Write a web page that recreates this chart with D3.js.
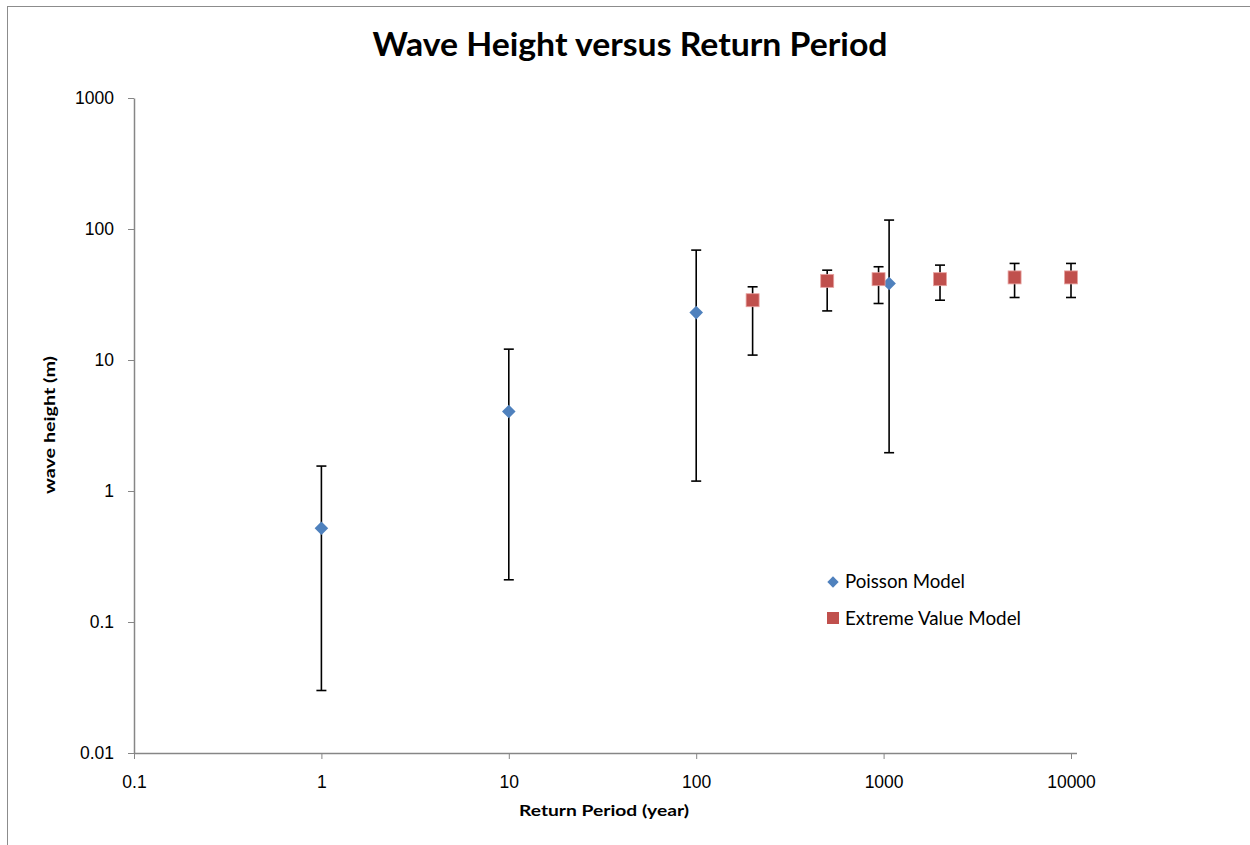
<!DOCTYPE html>
<html>
<head>
<meta charset="utf-8">
<script src="https://cdn.jsdelivr.net/npm/d3@7"></script>
<style>
  body { margin: 0; background: #fff; }
  svg { display: block; font-family: Lato, "Open Sans", sans-serif; }
  .axis path, .axis line { stroke: #868686; }
  .axis text { font-size: 17.5px; fill: #000; }
</style>
</head>
<body>
<div id="chart"></div>
<script>
'use strict';

// return periods (year) and wave heights (m)
const poissonPeriod = [1, 10, 100, 1070];
const poissonHeight = [0.52, 4.05, 23.0, 38.4];
const poissonLow    = [0.03, 0.21, 1.19, 1.96];
const poissonHigh   = [1.55, 12.1, 69, 117];

const evPeriod = [200, 500, 940, 2000, 5000, 10000];
const evHeight = [28.6, 40.2, 41.4, 41.4, 42.7, 42.7];
const evLow    = [10.9, 23.7, 27.0, 28.6, 30.0, 30.0];
const evHigh   = [36.2, 48.5, 51.5, 53.0, 54.6, 54.6];

const xTicks = [0.1, 1, 10, 100, 1000, 10000];
const yTicks = [0.01, 0.1, 1, 10, 100, 1000];

const seriesNames = ['Poisson Model', 'Extreme Value Model'];
const blue = '#4F81BD';
const red  = '#C0504D';

const width = 1250, height = 845;
const margin = { left: 134, right: 179, top: 98, bottom: 92 };

const svg = d3.select('#chart').append('svg')
  .attr('width', width)
  .attr('height', height);

// chart frame (cut off at right/bottom like the original)
svg.append('rect')
  .attr('x', 7.5).attr('y', 6.5)
  .attr('width', width + 20).attr('height', height + 20)
  .attr('fill', 'none')
  .attr('stroke', '#8c8c8c')
  .attr('stroke-width', 1);

const x = d3.scaleLog()
  .domain([0.1, 10000])
  .range([margin.left, width - margin.right]);

const y = d3.scaleLog()
  .domain([0.01, 1000])
  .range([height - margin.bottom, margin.top]);

const fmt = d => String(d);

// x axis
const gx = svg.append('g')
  .attr('class', 'axis')
  .attr('transform', `translate(0,${y(0.01)})`)
  .call(d3.axisBottom(x).tickValues(xTicks).tickFormat(fmt).tickSize(6).tickSizeOuter(0));
gx.select('.domain').remove();
gx.append('line')
  .attr('x1', x(0.1)).attr('x2', x(10000) + 6)
  .attr('y1', 0.5).attr('y2', 0.5)
  .attr('stroke', '#868686').attr('stroke-width', 1.5);
gx.selectAll('.tick text').attr('dy', '1.5em');

// y axis
const gy = svg.append('g')
  .attr('class', 'axis')
  .attr('transform', `translate(${x(0.1)},0)`)
  .call(d3.axisLeft(y).tickValues(yTicks).tickFormat(fmt).tickSize(6).tickSizeOuter(0));
gy.select('.domain').attr('stroke-width', 1.5);
gy.selectAll('.tick text').attr('x', -20);

// title and axis titles
svg.append('text')
  .attr('x', 630).attr('y', 56)
  .attr('text-anchor', 'middle')
  .attr('font-size', 32).attr('font-weight', 'bold')
  .attr('textLength', 515).attr('lengthAdjust', 'spacingAndGlyphs')
  .text('Wave Height versus Return Period');

svg.append('text')
  .attr('x', 604).attr('y', 816)
  .attr('text-anchor', 'middle')
  .attr('font-size', 15).attr('font-weight', 'bold')
  .attr('textLength', 170).attr('lengthAdjust', 'spacingAndGlyphs')
  .text('Return Period (year)');

svg.append('text')
  .attr('transform', 'translate(55,425) rotate(-90)')
  .attr('text-anchor', 'middle')
  .attr('font-size', 16).attr('font-weight', 'bold')
  .attr('textLength', 138).attr('lengthAdjust', 'spacingAndGlyphs')
  .text('wave height (m)');

// error bars
function errorBars(px, lo, hi) {
  const g = svg.append('g')
    .attr('stroke', '#000')
    .attr('stroke-width', 1.6);
  const cap = 5;
  px.forEach((p, i) => {
    const cx = x(p);
    g.append('line')
      .attr('x1', cx).attr('x2', cx)
      .attr('y1', y(lo[i])).attr('y2', y(hi[i]));
    [lo[i], hi[i]].forEach(v => {
      g.append('line')
        .attr('x1', cx - cap).attr('x2', cx + cap)
        .attr('y1', y(v)).attr('y2', y(v));
    });
  });
}
errorBars(poissonPeriod, poissonLow, poissonHigh);
errorBars(evPeriod, evLow, evHigh);

// markers
svg.append('g').selectAll('path')
  .data(poissonPeriod)
  .enter()
  .append('path')
  .attr('d', d3.symbol().type(d3.symbolSquare).size(92))
  .attr('transform', (d, i) => `translate(${x(d)},${y(poissonHeight[i])}) rotate(45)`)
  .attr('fill', blue);

const sq = 13;
svg.append('g').selectAll('rect')
  .data(evPeriod)
  .enter()
  .append('rect')
  .attr('x', d => x(d) - sq / 2)
  .attr('y', (d, i) => y(evHeight[i]) - sq / 2)
  .attr('width', sq).attr('height', sq)
  .attr('fill', red)
  .attr('stroke', '#e8a2a0')
  .attr('stroke-width', 0.8);

// legend
const legend = svg.append('g').attr('transform', 'translate(833,0)');

legend.append('path')
  .attr('d', d3.symbol().type(d3.symbolSquare).size(64))
  .attr('transform', 'translate(0,582) rotate(45)')
  .attr('fill', blue);

legend.append('rect')
  .attr('x', -6).attr('y', 612)
  .attr('width', 12).attr('height', 12)
  .attr('fill', red);

const legendWidths = [120, 176];
legend.selectAll('text')
  .data(seriesNames)
  .enter()
  .append('text')
  .attr('x', 12)
  .attr('y', (d, i) => 582 + i * 37)
  .attr('dy', '0.35em')
  .attr('font-size', 18.5)
  .attr('textLength', (d, i) => legendWidths[i])
  .attr('lengthAdjust', 'spacingAndGlyphs')
  .text(d => d);
</script>
</body>
</html>
